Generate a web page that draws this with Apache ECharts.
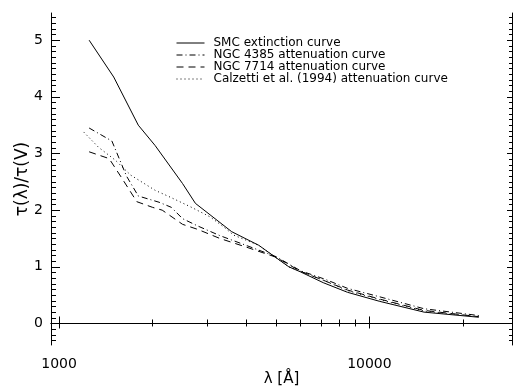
<!DOCTYPE html>
<html><head><meta charset="utf-8">
<script src="https://cdn.jsdelivr.net/npm/echarts@6/dist/echarts.min.js"></script>
<style>html,body{margin:0;padding:0;background:#fff}#c{width:513px;height:388px}</style>
</head><body><div id="c"></div>
<script>
// ---- data (wavelength in Angstrom, tau(lambda)/tau(V)) ----
const smcData = [[1250,5.0],[1500,4.35],[1800,3.5],[2040,3.14],[2500,2.47],[2750,2.12],[3600,1.62],[4400,1.38],[5500,1.0],[6000,0.91],[7100,0.72],[8500,0.55],[10800,0.39],[15000,0.2],[22500,0.11]];
const ngc4385Data = [[1250,3.45],[1480,3.22],[1650,2.6],[1800,2.25],[2100,2.14],[2300,2.05],[2500,1.85],[2800,1.72],[3300,1.55],[4000,1.38],[5000,1.18],[6000,0.93],[7200,0.78],[8500,0.62],[10800,0.47],[15000,0.26],[22500,0.14]];
const ngc7714Data = [[1250,3.03],[1450,2.91],[1600,2.55],[1780,2.15],[2000,2.05],[2150,2.0],[2500,1.75],[2800,1.66],[3300,1.5],[4000,1.35],[5000,1.17],[6000,0.92],[7200,0.75],[8500,0.59],[10800,0.43],[15000,0.23],[22500,0.12]];
const calzettiData = [[1200,3.38],[1340,3.11],[1520,2.88],[1700,2.62],[2040,2.35],[2280,2.23],[2650,2.06],[3070,1.88],[3400,1.7],[3650,1.56],[4400,1.38],[5500,1.0],[6000,0.92],[7200,0.75],[8500,0.58],[10800,0.42],[15000,0.22],[22500,0.12]];
const seriesNames = ['SMC extinction curve','NGC 4385 attenuation curve','NGC 7714 attenuation curve','Calzetti et al. (1994) attenuation curve'];
const xMajorTicks = [1000,10000];
const xMinorTicks = [2000,3000,4000,5000,6000,7000,8000,9000,20000];
const yMajorTicks = [0,1,2,3,4,5];
const yMinorTicks = [];
for (let i=-3;i<=54;i++){ if(i%10!==0) yMinorTicks.push(i/10); }
const xMin = 942, xMax = 28800, yMin = -0.38, yMax = 5.48;

const FONT = 'DejaVu Sans';
const chart = echarts.init(document.getElementById('c'), null, {renderer:'canvas'});
const gridRect = {left:51, right:1, top:13, bottom:43, containLabel:false, outerBoundsMode:'none'};
function xAx(grid, pos, ticks, len, labels, line){
  return {type:'log', logBase:10, gridIndex:grid, position:pos, min:xMin, max:xMax,
    axisLine:{show:line, lineStyle:{color:'#000',width:1}},
    axisTick:{show:true, inside:true, length:len, customValues:ticks, lineStyle:{color:'#000',width:1}},
    axisLabel:{show:labels, customValues:ticks, color:'#000', fontFamily:FONT, fontSize:14, margin:12,
      formatter:v=>String(Math.round(v))},
    splitLine:{show:false}, minorTick:{show:false}};
}
function yAx(grid, pos, ticks, len, labels, line){
  return {type:'value', gridIndex:grid, position:pos, min:yMin, max:yMax,
    axisLine:{show:line, lineStyle:{color:'#000',width:1}},
    axisTick:{show:true, inside:true, length:len, customValues:ticks, lineStyle:{color:'#000',width:1}},
    axisLabel:{show:labels, customValues:ticks, color:'#000', fontFamily:FONT, fontSize:14, margin:8},
    splitLine:{show:false}};
}
const xAxes = [xAx(0,'bottom',xMajorTicks,7,true,true), xAx(0,'top',xMajorTicks,5,false,true),
               xAx(1,'bottom',xMinorTicks,4,false,false), xAx(1,'top',xMinorTicks,3,false,false)];
xAxes[0].name = 'λ [Å]'; xAxes[0].nameLocation='middle'; xAxes[0].nameGap=27;
xAxes[0].nameMoveOverlap = false;
xAxes[0].nameTextStyle={color:'#000',fontFamily:FONT,fontSize:15};
const yAxes = [yAx(0,'left',yMajorTicks,9,true,true), yAx(0,'right',yMajorTicks,5,false,true),
               yAx(1,'left',yMinorTicks,5,false,false), yAx(1,'right',yMinorTicks,3,false,false)];
yAxes[0].name = 'τ(λ)/τ(V)'; yAxes[0].nameLocation='middle'; yAxes[0].nameGap=20;
yAxes[0].nameMoveOverlap = false;
yAxes[0].nameTextStyle={color:'#000',fontFamily:FONT,fontSize:17};

const styles = [{type:'solid'},{type:[6,3,1,3]},{type:[7,5]},{type:[1,3]}];
const datas = [smcData, ngc4385Data, ngc7714Data, calzettiData];
const series = datas.map((d,i)=>({name:seriesNames[i], type:'line', xAxisIndex:0, yAxisIndex:0,
  data:d, symbol:'none', showSymbol:false, smooth:false, silent:true, animation:false,
  itemStyle:{color:'#000'},
  lineStyle:{color:'#000', width:1, type:styles[i].type}}));

chart.setOption({
  animation:false,
  backgroundColor:'#fff',
  grid:[Object.assign({},gridRect), Object.assign({},gridRect)],
  xAxis:xAxes, yAxis:yAxes,
  legend:{show:true, orient:'vertical', left:176, top:37, padding:0, itemWidth:28, itemHeight:8, itemGap:0,
    data:seriesNames, selectedMode:false,
    itemStyle:{opacity:0},
    lineStyle:{width:1, color:'#000'},
    textStyle:{color:'#000', fontFamily:FONT, fontSize:12, padding:[0,0,0,4]}},
  series:series
});
</script></body></html>
